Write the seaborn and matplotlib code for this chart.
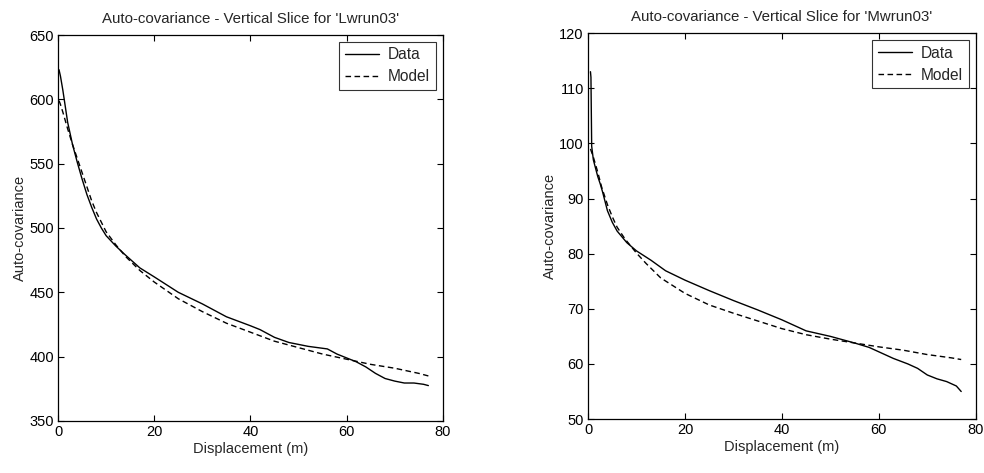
import matplotlib
matplotlib.use("Agg")
import matplotlib.pyplot as plt
import seaborn as sns
import pandas as pd

sns.set_theme(style="white")
plt.rcParams["font.family"] = ["Liberation Sans", "DejaVu Sans"]

# Lwrun03 vertical slice
lw_data_x = [0.2, 0.5, 1, 2, 3, 4, 5, 6, 7, 8, 9, 10, 12, 14, 17, 20, 25, 30, 35, 40,
             42, 45, 48, 52, 56, 58, 60, 62, 64, 66, 68, 70, 72, 74, 76, 77]
lw_data_y = [623, 618, 607, 582, 565, 551, 538, 526, 516, 507, 500, 494, 486, 479, 469,
             462, 450, 441, 431, 424, 421, 415, 411, 408, 406, 402, 399, 396, 392, 387,
             383, 381, 379.5, 379.5, 378.5, 377.5]
lw_model_x = [0.2, 0.5, 1, 2, 3, 4, 5, 6, 7, 8, 10, 12, 14, 17, 20, 25, 30, 35, 40, 45,
              50, 55, 60, 65, 70, 75, 77]
lw_model_y = [599, 596, 590, 577, 565, 554, 543, 532, 521, 512, 497, 487, 478, 467, 458,
              445, 435, 426, 419, 412, 407, 402, 398, 394, 391, 387, 385]

# Mwrun03 vertical slice
mw_data_x = [0.5, 0.6, 0.75, 1.1, 2, 2.5, 3, 4, 5, 6, 8, 10, 13, 16, 20, 25, 30, 35,
             40, 45, 50, 55, 58, 60, 63, 66, 68, 70, 72, 74, 76, 77]
mw_data_y = [113, 112, 99.5, 97, 94, 92.7, 91.2, 87.8, 85.7, 84.1, 82, 80.5, 78.8, 76.9,
             75.2, 73.3, 71.5, 69.8, 68, 66, 65, 63.8, 63, 62.2, 61, 60, 59.2, 58, 57.3,
             56.8, 56, 55]
mw_model_x = [0.5, 1.1, 2, 2.8, 4, 5, 6, 7.6, 10, 12, 15, 20, 25, 30, 35, 40, 45, 50,
              55, 60, 65, 70, 75, 77]
mw_model_y = [99, 97.5, 94.8, 92.1, 88.9, 86.7, 84.8, 82.7, 80.1, 78.2, 75.6, 72.8,
              70.7, 69.2, 67.8, 66.4, 65.3, 64.5, 63.8, 63.1, 62.5, 61.7, 61.1, 60.8]

panels = [
    ("Auto-covariance - Vertical Slice for 'Lwrun03'", lw_data_x, lw_data_y,
     lw_model_x, lw_model_y, (350, 650), [350, 400, 450, 500, 550, 600, 650]),
    ("Auto-covariance - Vertical Slice for 'Mwrun03'", mw_data_x, mw_data_y,
     mw_model_x, mw_model_y, (50, 120), [50, 60, 70, 80, 90, 100, 110, 120]),
]

fig = plt.figure(figsize=(9.84, 4.73), dpi=100)
axes = [fig.add_axes([0.059, 0.110, 0.391, 0.816]),
        fig.add_axes([0.5976, 0.114, 0.394, 0.816])]

for ax, (title, dx, dy, mx, my, ylim, yticks) in zip(axes, panels):
    df = pd.concat([
        pd.DataFrame({"x": dx, "y": dy, "series": "Data"}),
        pd.DataFrame({"x": mx, "y": my, "series": "Model"}),
    ])
    sns.lineplot(data=df, x="x", y="y", hue="series", style="series",
                 palette={"Data": "black", "Model": "black"},
                 dashes={"Data": "", "Model": (4, 2.5)},
                 linewidth=1.0, ax=ax, sort=False)
    ax.set_xlim(0, 80)
    ax.set_ylim(*ylim)
    ax.set_xticks([0, 20, 40, 60, 80])
    ax.set_yticks(yticks)
    ax.set_title(title, fontsize=10.8, pad=9)
    ax.set_xlabel("Displacement (m)", fontsize=10.5, labelpad=2)
    ax.set_ylabel("Auto-covariance", fontsize=10.5, labelpad=2)
    ax.tick_params(direction="in", length=4, width=0.8, labelsize=10.5,
                   top=True, right=True, bottom=True, left=True, pad=3,
                   colors="black")
    for s in ax.spines.values():
        s.set_color("black")
        s.set_linewidth(0.9)
    leg = ax.legend(loc="upper right", fontsize=11.2, frameon=True, fancybox=False,
                    handlelength=2.2, borderaxespad=0.45, borderpad=0.35,
                    labelspacing=0.45, handletextpad=0.6)
    leg.set_title(None)
    leg.get_frame().set_edgecolor("black")
    leg.get_frame().set_linewidth(0.8)

fig.savefig("out.png", dpi=100)
